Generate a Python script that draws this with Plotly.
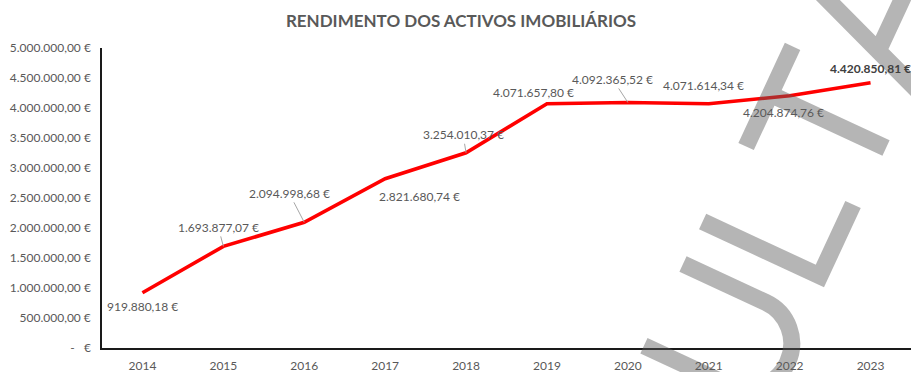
import plotly.graph_objects as go

# Annual value of the real-estate portfolio
years = ["2014", "2015", "2016", "2017", "2018", "2019", "2020", "2021", "2022", "2023"]
values = [919880.18, 1693877.07, 2094998.68, 2821680.74, 3254010.37,
          4071657.80, 4092365.52, 4071614.34, 4204874.76, 4420850.81]

y_tick_values = [0, 500000, 1000000, 1500000, 2000000, 2500000,
                 3000000, 3500000, 4000000, 4500000, 5000000]


def eur(v):
    s = f"{v:,.2f}"
    s = s.replace(",", "X").replace(".", ",").replace("X", ".")
    return s + " €"


y_tick_text = ["-\u00a0\u00a0\u00a0€" if v == 0 else eur(v) for v in y_tick_values]

# label placement (pixel offset of the label centre from its point) and leader lines
label_offsets = [(0, 14), (-5, -19), (-15, -29), (34, 18), (-3, -18),
                 (-13, -11), (-15, -23), (-5, -18), (-6, 17), (0, -14)]
label_leaders = [False, True, True, False, True, False, True, False, False, False]

W, H = 911, 372
ML, MR, MT, MB = 101.5, 0, 48, 24
PW, PH = W - ML - MR, H - MT - MB

FONT = "Lato, 'Open Sans', sans-serif"
GREY = "#595959"

fig = go.Figure()
fig.add_trace(go.Scatter(
    x=years, y=values, mode="lines",
    line=dict(color="#FF0000", width=3.6),
    hoverinfo="skip", showlegend=False,
))

annotations = []
for i, v in enumerate(values):
    dx, dy = label_offsets[i]
    last = i == len(values) - 1
    annotations.append(dict(
        x=i, y=v, xref="x", yref="y",
        text=f"<b>{eur(v)}</b>" if last else eur(v),
        showarrow=True, ax=dx, ay=dy,
        arrowhead=0, arrowwidth=1, standoff=0,
        arrowcolor="#a6a6a6" if label_leaders[i] else "rgba(0,0,0,0)",
        font=dict(family=FONT, size=12, color="#404040" if last else GREY),
    ))


# watermark strokes, given in page pixels and converted to paper coordinates
def px(p):
    return ((p[0] - ML) / PW, (H - MB - p[1]) / PH)


def fmt(p):
    x, y = px(p)
    return f"{x:.5f},{y:.5f}"


def seg(points):
    return " ".join(("M " if j == 0 else "L ") + fmt(p) for j, p in enumerate(points))


d = (0.907, 0.421)
n = (-0.421, 0.907)
c = (746.3, 343.4)
R = 45.35
k = 0.5523 * R


def loc(u, v):
    return (c[0] + u * d[0] + v * n[0], c[1] + u * d[1] + v * n[1])


u_path = (
    "M " + fmt(loc(-91, -R)) + " L " + fmt(loc(0, -R)) +
    " C " + fmt(loc(k, -R)) + " " + fmt(loc(R, -k)) + " " + fmt(loc(R, 0)) +
    " C " + fmt(loc(R, k)) + " " + fmt(loc(k, R)) + " " + fmt(loc(0, R)) +
    " L " + fmt(loc(-92, R))
)
l_path = seg([(702.5, 221.5), (819.8, 276.0), (853.0, 204.5)])
t_path = seg([(792.5, 46.3), (746.0, 146.5)]) + " " + seg([(770.2, 94.3), (886.0, 148.0)])
a_path = seg([(808.0, -20.0), (930.0, 103.0)]) + " " + seg([(878.2, 50.9), (925.4, -50.7)])

watermark = " ".join([u_path, l_path, t_path, a_path])

fig.update_layout(
    width=W, height=H,
    margin=dict(l=ML, r=MR, t=MT, b=MB, pad=0),
    paper_bgcolor="white", plot_bgcolor="white",
    title=dict(
        text="<b>RENDIMENTO DOS ACTIVOS IMOBILIÁRIOS</b>",
        x=461 / W, xanchor="center", y=1 - 21 / H, yanchor="middle",
        font=dict(family=FONT, size=17, color=GREY),
    ),
    xaxis=dict(
        type="category", range=[-0.5, 9.5],
        showgrid=False, zeroline=False,
        showline=True, linecolor="#1a1a1a", linewidth=1.5,
        ticks="", ticklabelstandoff=6,
        tickfont=dict(family=FONT, size=12, color=GREY),
        fixedrange=True,
    ),
    yaxis=dict(
        range=[0, 5000000], tickvals=y_tick_values, ticktext=y_tick_text,
        showgrid=False, zeroline=False,
        showline=True, linecolor="#1a1a1a", linewidth=1.5,
        ticks="", ticklabelstandoff=7,
        tickfont=dict(family=FONT, size=12, color=GREY),
        fixedrange=True,
    ),
    annotations=annotations,
    shapes=[dict(
        type="path", xref="paper", yref="paper", path=watermark,
        line=dict(color="rgba(90,90,90,0.45)", width=17),
        fillcolor="rgba(0,0,0,0)", layer="above",
    )],
    showlegend=False,
    hovermode=False,
)

fig.write_html("out.html", config={"displayModeBar": False})
